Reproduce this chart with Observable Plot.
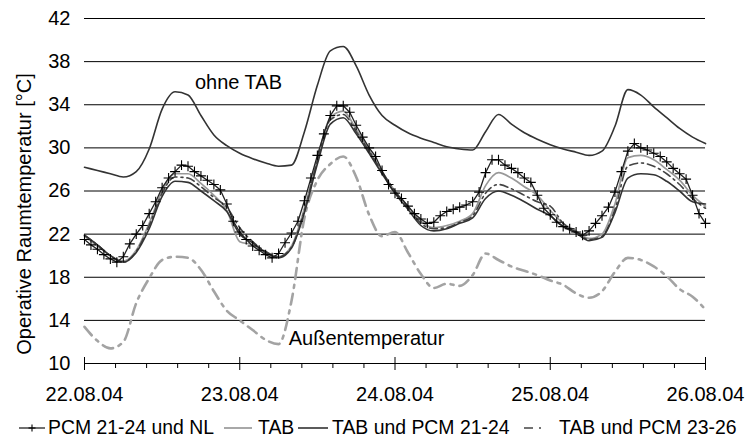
<!DOCTYPE html>
<html><head><meta charset="utf-8">
<script src="https://cdn.jsdelivr.net/npm/d3@7"></script>
<script src="https://cdn.jsdelivr.net/npm/@observablehq/plot@0.6"></script>
<style>
body{margin:0;background:#fff;font-family:"Liberation Sans",Arial,sans-serif;}
#wrap{position:relative;width:747px;height:446px;overflow:hidden;}
#ytitle{position:absolute;left:24px;top:214px;transform:translate(-50%,-50%) rotate(-90deg);white-space:nowrap;font-size:20px;color:#000;}
#legend{position:absolute;left:0;top:410px;width:747px;height:36px;font-size:19.4px;color:#000;white-space:nowrap;}
#legend svg,#legend span{position:absolute;}
</style></head>
<body><div id="wrap"><div id="chart"></div><div id="ytitle">Operative Raumtemperatur [°C]</div><div id="legend"></div></div>
<script>
// x-axis: hours since 22.08.04 00:00
const dayLabels = ["22.08.04","23.08.04","24.08.04","25.08.04","26.08.04"];
const dayHours = [0,24,48,72,96];
const minorHours = [4.8,9.6,14.4,19.2,28.8,33.6,38.4,43.2,52.8,57.6,62.4,67.2,76.8,81.6,86.4,91.2];
const yTicks = [10,14,18,22,26,30,34,38,42];

// 2-hourly series (h = 0,2,...,96)
const ohneTAB = [28.2,27.9,27.6,27.3,27.8,29.9,33.6,35.2,34.9,33.0,31.2,30.2,29.5,29.0,28.6,28.3,28.4,31.5,35.8,39.0,39.4,37.6,34.9,33.0,32.1,31.4,30.9,30.5,30.1,29.9,29.8,31.5,33.1,32.2,31.4,30.8,30.3,29.9,29.6,29.3,29.7,32.0,35.4,34.9,33.8,32.8,31.8,31.0,30.4];
const tab = [21.8,20.9,20.0,19.5,20.5,23.0,26.0,27.6,27.6,26.7,25.6,24.2,21.3,21.0,20.3,19.9,20.9,24.4,29.0,32.8,33.4,31.7,29.8,27.8,26.0,24.6,23.2,22.6,22.8,23.2,23.9,26.5,27.7,27.2,26.4,25.6,24.2,23.0,22.3,21.6,22.0,24.8,29.1,29.3,28.9,28.0,27.0,25.6,24.6];
const tabPcm2124 = [21.9,21.0,20.0,19.4,20.3,22.5,25.5,26.9,26.8,26.0,25.1,24.1,22.0,21.2,20.3,19.8,20.7,24.0,28.5,32.2,32.8,31.3,29.5,27.6,25.8,24.3,22.8,22.3,22.5,23.0,23.5,25.3,26.0,25.6,25.0,24.3,23.7,22.7,22.1,21.4,21.7,24.0,27.2,27.6,27.5,26.9,26.0,25.0,24.8];
const tabPcm2326 = [21.9,21.0,20.0,19.4,20.4,22.8,25.8,27.3,27.2,26.4,25.4,24.5,22.6,21.3,20.4,19.9,20.8,24.2,28.8,32.6,33.1,31.5,29.7,27.8,26.0,24.5,23.0,22.5,22.6,23.1,23.7,25.8,26.6,26.2,25.6,25.0,24.6,23.0,22.2,21.5,21.8,24.3,28.3,28.6,28.3,27.6,26.6,25.3,24.4];
const aussen = [13.4,12.1,11.4,12.0,15.6,17.9,19.6,19.9,19.8,18.7,16.7,14.9,14.0,13.1,12.2,11.8,15.8,23.5,27.0,28.5,29.2,27.3,23.8,21.8,22.2,20.3,18.3,17.0,17.4,17.2,18.2,20.2,19.6,19.0,18.6,18.2,17.7,17.3,16.5,16.1,16.7,18.5,19.8,19.6,19.0,18.1,16.9,16.2,15.0];
// hourly series (h = 0..96)
const pcmNL = [21.5,21.0,20.6,20.1,19.7,19.4,19.9,21.1,22.0,22.8,23.9,25.0,26.3,27.2,27.8,28.4,28.3,27.8,27.4,27.0,26.6,26.1,24.8,23.2,
22.2,21.5,20.9,20.5,20.1,19.8,20.2,21.2,22.1,23.2,25.1,27.2,29.3,31.3,33.0,33.9,33.9,33.3,32.1,31.0,30.0,29.2,27.9,26.6,
25.8,25.3,24.6,23.9,23.4,23.0,23.1,23.7,24.1,24.3,24.5,24.7,25.0,25.9,27.7,28.9,28.9,28.4,28.1,27.7,27.2,26.8,25.6,24.4,
23.8,23.1,22.7,22.5,22.2,21.9,22.3,23.0,23.7,24.5,25.9,27.8,29.7,30.4,30.0,29.8,29.5,29.2,28.7,28.1,27.6,27.1,25.6,23.9,23.0];

const annoText = ["ohne TAB","Außentemperatur"];
const annoX = [23.8,43.6];
const annoY = [36.1,12.35];

const legendNames = ["PCM 21-24 und NL","TAB","TAB und PCM 21-24","TAB und PCM 23-26"];

const two = arr => arr.map((v,i)=>({h:i*2,v}));
const one = arr => arr.map((v,i)=>({h:i,v}));

const chart = Plot.plot({
  width:747, height:410,
  marginLeft:84, marginRight:42, marginTop:18, marginBottom:47,
  style:{fontFamily:'"Liberation Sans",Arial,sans-serif', fontSize:"20px", color:"#000", background:"#fff"},
  x:{type:"linear", domain:[0,96]},
  y:{domain:[10,42]},
  marks:[
    Plot.ruleY(yTicks,{stroke:"#000",strokeWidth:1}),
    Plot.line(two(aussen),{x:"h",y:"v",stroke:"#a3a3a3",strokeWidth:2.6,strokeDasharray:"11,6,3,6",curve:"monotone-x"}),
    Plot.line(two(ohneTAB),{x:"h",y:"v",stroke:"#333",strokeWidth:1.6,curve:"monotone-x"}),
    Plot.line(two(tab),{x:"h",y:"v",stroke:"#999",strokeWidth:1.7,curve:"monotone-x"}),
    Plot.line(two(tabPcm2326),{x:"h",y:"v",stroke:"#444",strokeWidth:1.6,strokeDasharray:"8,4,2,4",curve:"monotone-x"}),
    Plot.line(two(tabPcm2124),{x:"h",y:"v",stroke:"#333",strokeWidth:1.6,curve:"monotone-x"}),
    Plot.line(one(pcmNL),{x:"h",y:"v",stroke:"#222",strokeWidth:1.3}),
    Plot.dot(one(pcmNL),{x:"h",y:"v",symbol:"plus",r:3.3,stroke:"#000",strokeWidth:1.1}),
    Plot.text(annoText,{x:(d,i)=>annoX[i],y:(d,i)=>annoY[i],text:d=>d,fontSize:20,fill:"#000",textAnchor:"middle"}),
    Plot.axisX({ticks:dayHours,tickSize:7,tickPadding:16,tickFormat:(d)=>dayLabels[dayHours.indexOf(d)],fontSize:20,label:null,stroke:"#000"}),
    Plot.axisX({ticks:dayHours,tickSize:-6,tickFormat:()=>"",label:null,stroke:"#000"}),
    Plot.axisX({ticks:minorHours,tickSize:5,tickFormat:()=>"",label:null,stroke:"#000"}),
    Plot.axisY({ticks:yTicks,tickSize:0,tickPadding:14,fontSize:20,label:null})
  ]
});
document.getElementById("chart").appendChild(chart);

// legend
const sw = [
  '<line x1="0" y1="9" x2="26" y2="9" stroke="#222" stroke-width="1.3"/><line x1="13" y1="5.5" x2="13" y2="12.5" stroke="#000" stroke-width="1.1"/><line x1="9.5" y1="9" x2="16.5" y2="9" stroke="#000" stroke-width="1.1"/>',
  '<line x1="0" y1="9" x2="28" y2="9" stroke="#999" stroke-width="1.7"/>',
  '<line x1="0" y1="9" x2="30" y2="9" stroke="#333" stroke-width="1.6"/>',
  '<line x1="0" y1="9" x2="28" y2="9" stroke="#444" stroke-width="1.6" stroke-dasharray="9,6,2,11"/>'
];
const swX=[19,224,298,524], swW=[26,28,30,28], txX=[48,258,332,559];
const lg=document.getElementById("legend");
legendNames.forEach((n,i)=>{
  lg.insertAdjacentHTML("beforeend",`<svg style="left:${swX[i]}px;top:9px" width="${swW[i]}" height="18">${sw[i]}</svg><span style="left:${txX[i]}px;top:6px">${n}</span>`);
});
</script></body></html>
